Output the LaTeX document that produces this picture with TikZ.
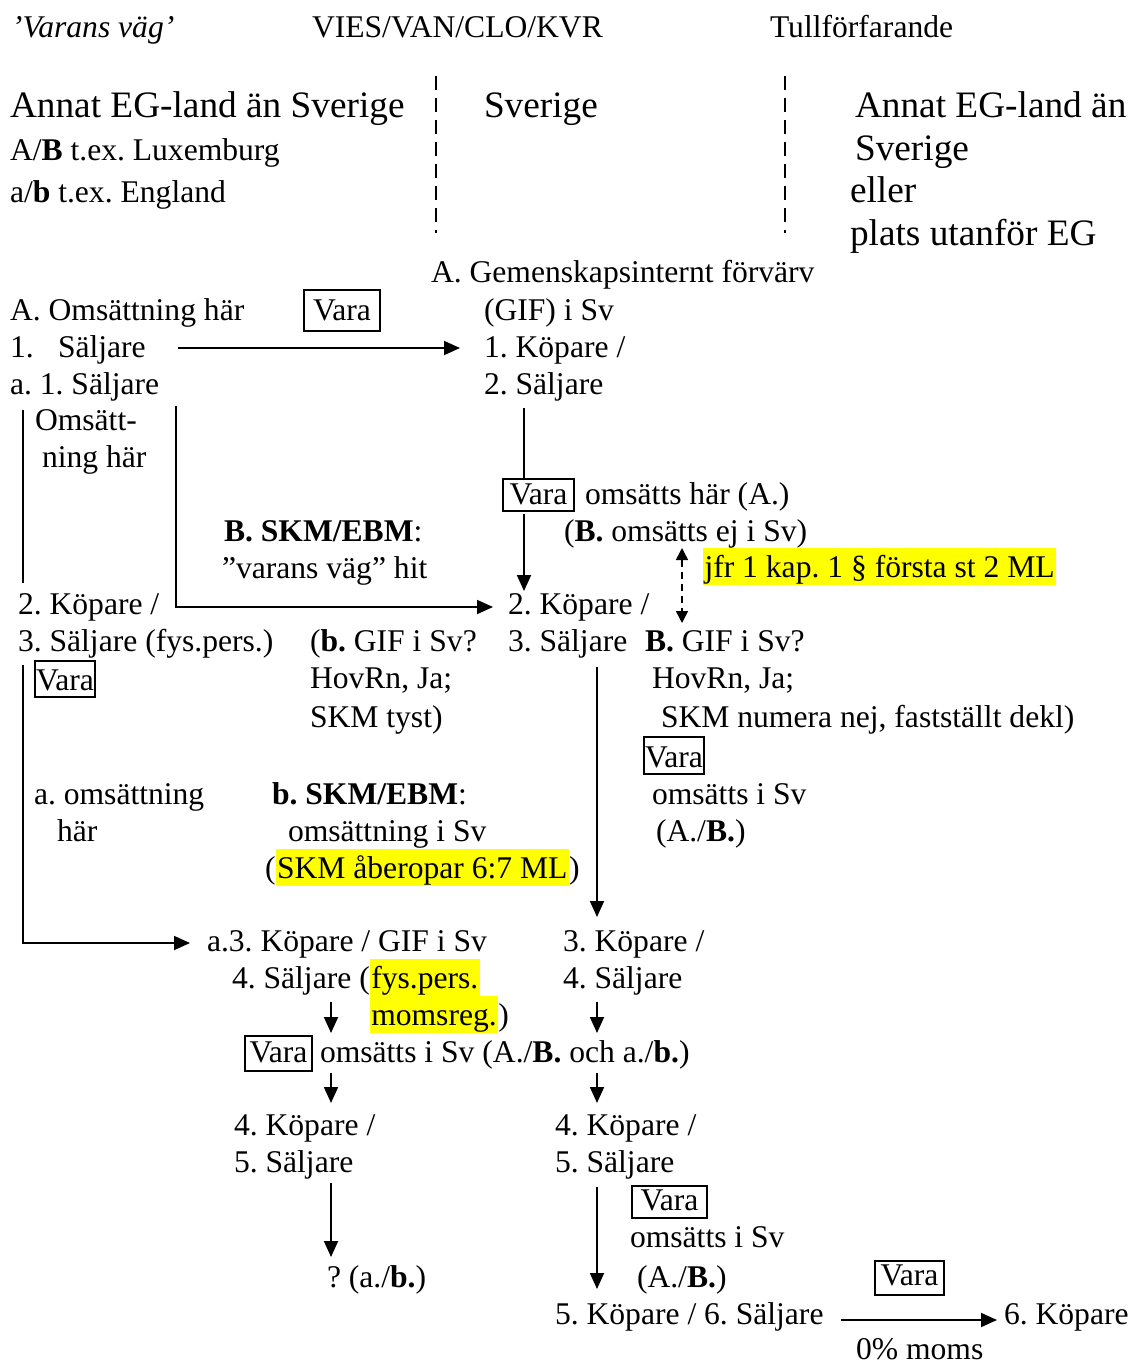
\documentclass[tikz,border=0pt]{standalone}
\usepackage{fontspec}
\setmainfont{Liberation Serif}
\usetikzlibrary{arrows.meta,calc}
\definecolor{hl}{RGB}{255,255,0}
\frenchspacing
\begin{document}
\frenchspacing
\begin{tikzpicture}[x=1pt,y=-1pt,
  txt/.style={anchor=base west, inner sep=0pt, outer sep=0pt, font=\fontsize{31.6}{37}\selectfont\frenchspacing, text height=23pt, text depth=6pt},
  big/.style={txt, font=\fontsize{37.3}{44}\selectfont\frenchspacing},
  vbox/.style={txt, draw, line width=1.8pt, inner xsep=1pt, inner ysep=0pt, text height=30pt, text depth=7pt},
  hlt/.style={txt, fill=hl, inner xsep=1.5pt, text height=29pt, text depth=8pt},
  ln/.style={line width=1.8pt},
  arr/.style={ln, -{Triangle[length=16pt,width=14pt]}},
  dar/.style={line width=1.6pt, dash pattern=on 7pt off 5pt, {Triangle[length=12pt,width=12pt]}-{Triangle[length=12pt,width=12pt]}},
  sepline/.style={line width=1.4pt, dash pattern=on 14pt off 8pt},
]
\useasboundingbox (0,0) rectangle (1129,1365);

% top line
\node[txt, font=\fontsize{31.6}{37}\selectfont\itshape] (t1) at (12,37) {’Varans väg’};
\node[txt] (t2) at (312,37) {VIES/VAN/CLO/KVR};
\node[txt] (t3) at (770,37) {Tullförfarande};

% separators
\coordinate (d1a) at (436,76);
\coordinate (d1b) at (436,233);
\coordinate (d2a) at (785,76);
\coordinate (d2b) at (785,233);
\draw[sepline] (d1a) -- (d1b);
\draw[sepline] (d2a) -- (d2b);

% headers
\node[big] (h1) at (10,117) {Annat EG-land än Sverige};
\node[big] (h2) at (484,117) {Sverige};
\node[big] (h3) at (855,117) {Annat EG-land än};
\node[big] (h4) at (855,160) {Sverige};
\node[big] (h5) at (850,202) {eller};
\node[big] (h6) at (850,245) {plats utanför EG};
\node[txt] (h7) at (10,160) {A/\textbf{B} t.ex. Luxemburg};
\node[txt] (h8) at (10,202) {a/\textbf{b} t.ex. England};

% rows
\node[txt] (aA) at (431,282) {A. Gemenskapsinternt förvärv};
\node[txt] (gif) at (484,320) {(GIF) i Sv};
\node[txt] (omsA) at (10,320) {A. Omsättning här};
\node[vbox, inner xsep=9pt, text depth=11pt] (v1) at (304,320) {Vara};
\node[txt] (n1) at (10,357) {1.};
\node[txt] (s1) at (58,357) {Säljare};
\node[txt] (k1) at (484,357) {1. Köpare /};
\node[txt] (a1) at (10,394) {a. 1. Säljare};
\node[txt] (s2) at (484,394) {2. Säljare};
\node[txt] (om1) at (35,430) {Omsätt-};
\node[txt] (om2) at (42,467) {ning här};
\node[vbox, inner xsep=6.5pt, text height=25pt] (v2) at (503,504) {Vara};
\node[txt] (oh) at (585,504) {omsätts här (A.)};
\node[txt] (ej) at (564,541) {(\textbf{B.} omsätts ej i Sv)};
\node[txt] (skm1) at (224,541) {\textbf{B. SKM/EBM}:};
\node[txt] (vv) at (222,578) {”varans väg” hit};
\node[hlt] (jfr) at (703,577) {jfr 1 kap. 1 § första st 2 ML};

\node[txt] (k2L) at (18,614) {2. Köpare /};
\node[txt] (k2M) at (508,614) {2. Köpare /};
\node[txt] (s3L) at (18,651) {3. Säljare (fys.pers.)};
\node[txt] (gifb) at (310,651) {(\textbf{b.} GIF i Sv?};
\node[txt] (s3M) at (508,651) {3. Säljare};
\node[txt] (gifB) at (645,651) {\textbf{B.} GIF i Sv?};
\node[vbox, text height=29pt] (v3) at (35,690) {Vara};
\node[txt] (hov1) at (310,688) {HovRn, Ja;};
\node[txt] (hov2) at (652,688) {HovRn, Ja;};
\node[txt] (tyst) at (310,727) {SKM tyst)};
\node[txt] (num) at (661,727) {SKM numera nej, fastställt dekl)};
\node[vbox] (v4) at (644,767) {Vara};
\node[txt] (ao) at (34,804) {a. omsättning};
\node[txt] (skm2) at (272,804) {\textbf{b. SKM/EBM}:};
\node[txt] (oms2) at (652,804) {omsätts i Sv};
\node[txt] (har) at (57,841) {här};
\node[txt] (omsv) at (288,841) {omsättning i Sv};
\node[txt] (ab1) at (656,841) {(A./\textbf{B.})};
\node[txt] (p1) at (265,878) {(};
\node[hlt] (hl2) at (p1.base east) {SKM åberopar 6:7 ML};
\node[txt] (p2) at (hl2.base east) {)};

\node[txt] (a3) at (207,951) {a.3. Köpare / GIF i Sv};
\node[txt] (k3) at (563,951) {3. Köpare /};
\node[txt] (s4a) at (232,988) {4. Säljare (};
\node[hlt] (fp) at (s4a.base east) {fys.pers.};
\node[txt] (s4M) at (563,988) {4. Säljare};
\node[hlt] (mr) at ($(fp.base west)+(0,37)$) {momsreg.};
\node[txt] (p3) at (mr.base east) {)};
\node[vbox, inner xsep=4.5pt, text height=26pt, text depth=9pt] (v5) at (245,1062) {Vara};
\node[txt] (ots) at (320,1062) {omsätts i Sv (A./\textbf{B.} och a./\textbf{b.})};
\node[txt] (k4L) at (234,1135) {4. Köpare /};
\node[txt] (k4R) at (555,1135) {4. Köpare /};
\node[txt] (s5L) at (234,1172) {5. Säljare};
\node[txt] (s5R) at (555,1172) {5. Säljare};
\node[vbox, inner xsep=8.5pt, text height=24pt, text depth=8pt] (v6) at (632,1210) {Vara};
\node[txt] (oms3) at (630,1247) {omsätts i Sv};
\node[txt] (q) at (327,1287) {? (a./\textbf{b.})};
\node[txt] (ab2) at (637,1287) {(A./\textbf{B.})};
\node[vbox, inner xsep=5.5pt, text height=24pt, text depth=10pt] (v7) at (875,1285) {Vara};
\node[txt] (k5) at (555,1324) {5. Köpare / 6. Säljare};
\node[txt] (k6) at (1004,1324) {6. Köpare};
\node[txt, text depth=0pt] (pm) at (856,1359) {0\% moms};

% connectors
\draw[arr] ($(s1.base east)+(32,-9)$) -- ($(k1.base west)+(-24,-9)$);
\draw[arr] ($(a1.south east)+(17,6)$) |- ($(k2M.base west)+(-15,-7)$);
\draw[ln] ($(a1.south west)+(13,10)$) -- ($(k2L.north west)+(5,-8)$);
\coordinate (cm) at ($(s2.south west)+(40,8)$);
\draw[ln] (cm) -- (cm |- v2.north);
\draw[arr] ($(cm |- v2.south)+(0,3)$) -- (cm |- k2M.north);
\coordinate (dd) at ($(ej.south west)+(118,1)$);
\draw[dar] (dd) -- ($(dd |- gifB.north)+(0,-5)$);
\draw[arr] ($(s3L.south west)+(5,8)$) |- ($(a3.base west)+(-17,-8)$);
\coordinate (cr) at ($(s3M.south west)+(89,10)$);
\draw[arr] (cr) -- ($(cr |- k3.north)+(0,-11)$);
\coordinate (cl) at ($(s4a.south west)+(99,8)$);
\coordinate (cr2) at ($(s4M.south west)+(34,8)$);
\draw[arr] (cl) -- ($(cl |- ots.north)+(0,-6)$);
\draw[arr] (cr2) -- ($(cr2 |- ots.north)+(0,-6)$);
\draw[arr] ($(cl |- ots.south)+(0,5)$) -- ($(cl |- k4L.north)+(0,-9)$);
\draw[arr] ($(cr2 |- ots.south)+(0,5)$) -- ($(cr2 |- k4R.north)+(0,-9)$);
\draw[arr] ($(cl |- s5L.south)+(0,5)$) -- ($(cl |- q.north)+(0,-7)$);
\draw[arr] ($(cr2 |- s5R.south)+(0,9)$) -- ($(cr2 |- k5.north)+(0,-12)$);
\draw[arr] ($(k5.base east)+(17,-4)$) -- ($(k6.base west)+(-7,-4)$);
\end{tikzpicture}
\end{document}
